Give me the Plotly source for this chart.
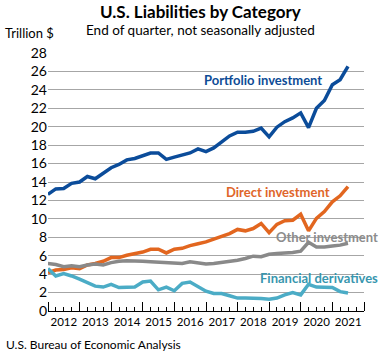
import plotly.graph_objects as go

quarters = [
    "2011-12-31", "2012-03-31", "2012-06-30", "2012-09-30", "2012-12-31",
    "2013-03-31", "2013-06-30", "2013-09-30", "2013-12-31",
    "2014-03-31", "2014-06-30", "2014-09-30", "2014-12-31",
    "2015-03-31", "2015-06-30", "2015-09-30", "2015-12-31",
    "2016-03-31", "2016-06-30", "2016-09-30", "2016-12-31",
    "2017-03-31", "2017-06-30", "2017-09-30", "2017-12-31",
    "2018-03-31", "2018-06-30", "2018-09-30", "2018-12-31",
    "2019-03-31", "2019-06-30", "2019-09-30", "2019-12-31",
    "2020-03-31", "2020-06-30", "2020-09-30", "2020-12-31",
    "2021-03-31", "2021-06-30",
]

portfolio = [12.65, 13.25, 13.3, 13.85, 14.0, 14.6, 14.35, 14.9, 15.55, 15.9,
             16.4, 16.55, 16.9, 17.15, 17.15, 16.45, 16.7, 16.9, 17.15, 17.6,
             17.3, 17.7, 18.3, 19.0, 19.4, 19.4, 19.5, 19.85, 18.9, 19.95,
             20.55, 20.95, 21.5, 19.9, 22.0, 22.85, 24.55, 25.1, 26.55]

direct = [4.15, 4.45, 4.5, 4.7, 4.6, 5.0, 5.15, 5.4, 5.8, 5.8,
          6.05, 6.2, 6.4, 6.7, 6.7, 6.3, 6.7, 6.8, 7.1, 7.3,
          7.5, 7.8, 8.05, 8.4, 8.85, 8.7, 8.95, 9.5, 8.5, 9.4,
          9.8, 9.85, 10.5, 8.7, 10.05, 10.8, 11.85, 12.5, 13.5]

other = [5.15, 5.05, 4.8, 4.9, 4.8, 5.0, 5.1, 5.0, 5.25, 5.4,
         5.45, 5.45, 5.4, 5.35, 5.3, 5.25, 5.15, 5.15, 5.35, 5.2,
         5.1, 5.15, 5.25, 5.35, 5.5, 5.7, 5.95, 5.9, 6.15, 6.25,
         6.3, 6.35, 6.5, 7.45, 6.95, 6.95, 7.05, 7.15, 7.35]

derivatives = [4.6, 3.8, 4.05, 3.8, 3.45, 3.1, 2.7, 2.6, 2.9, 2.55,
               2.6, 2.6, 3.15, 3.25, 2.3, 2.6, 2.2, 3.0, 3.15, 2.7,
               2.15, 1.9, 1.9, 1.65, 1.4, 1.4, 1.4, 1.35, 1.27, 1.4,
               1.75, 2.0, 1.75, 2.9, 2.6, 2.55, 2.55, 2.1, 1.95]

series = [
    ("Portfolio investment", portfolio, "#0B4C9A", "#0E4C96", 0.680, 0.897),
    ("Direct investment", direct, "#E2661F", "#E0662A", 0.727, 0.4625),
    ("Other investment", other, "#898989", "#8C8C8C", 0.883, 0.285),
    ("Financial derivatives", derivatives, "#4BACC6", "#3896AE", 0.8575, 0.128),
]

FONT = "Lato"

fig = go.Figure()
annotations = []
for name, vals, color, tcolor, ax, ay in series:
    fig.add_trace(go.Scatter(x=quarters, y=vals, mode="lines", name=name,
                             line=dict(color=color, width=3.5), showlegend=False))
    annotations.append(dict(text="<b>%s</b>" % name, x=ax, y=ay, xref="paper", yref="paper",
                            showarrow=False, xanchor="center", yanchor="middle",
                            font=dict(family=FONT, size=13, color=tcolor)))

annotations += [
    dict(text="<b>U.S. Liabilities by Category</b>", x=0.484, y=1.161, xref="paper", yref="paper",
         showarrow=False, xanchor="center", yanchor="middle",
         font=dict(family=FONT, size=17, color="#000000")),
    dict(text="End of quarter, not seasonally adjusted", x=0.484, y=1.091, xref="paper", yref="paper",
         showarrow=False, xanchor="center", yanchor="middle",
         font=dict(family=FONT, size=13.5, color="#000000")),
    dict(text="Trillion $", x=-0.141, y=1.079, xref="paper", yref="paper",
         showarrow=False, xanchor="left", yanchor="middle",
         font=dict(family=FONT, size=13, color="#000000")),
    dict(text="U.S. Bureau of Economic Analysis", x=-0.138, y=-0.129, xref="paper", yref="paper",
         showarrow=False, xanchor="left", yanchor="middle",
         font=dict(family=FONT, size=12, color="#000000")),
]

fig.update_layout(
    width=386, height=356,
    margin=dict(l=47.7, r=21.7, t=53.4, b=45.3),
    paper_bgcolor="white", plot_bgcolor="white",
    font=dict(family=FONT, color="#000000"),
    annotations=annotations,
    xaxis=dict(
        type="date",
        range=["2012-01-01", "2022-01-01"],
        tick0="2012-01-01", dtick="M12",
        ticklabelmode="period", tickformat="%Y",
        ticks="inside", ticklen=9, tickcolor="#000000", tickwidth=1,
        showgrid=False, showline=True, linecolor="#000000", linewidth=1,
        tickfont=dict(family=FONT, size=11.5, color="#000000"),
        minor=dict(dtick="M3", tick0="2012-01-01", ticks="inside", ticklen=4,
                   tickcolor="#000000", tickwidth=1, showgrid=False),
        automargin=False,
        fixedrange=True,
    ),
    yaxis=dict(
        range=[0, 28], dtick=2, tick0=0,
        showgrid=True, gridcolor="#A6A6A6", gridwidth=1,
        zeroline=False, showline=False, ticks="",
        tickfont=dict(family=FONT, size=14, color="#000000"),
        automargin=False,
        fixedrange=True,
    ),
)

fig.write_html("out.html", config={"displayModeBar": False},
               post_script="document.body.style.margin='0';document.body.style.overflow='hidden';")
